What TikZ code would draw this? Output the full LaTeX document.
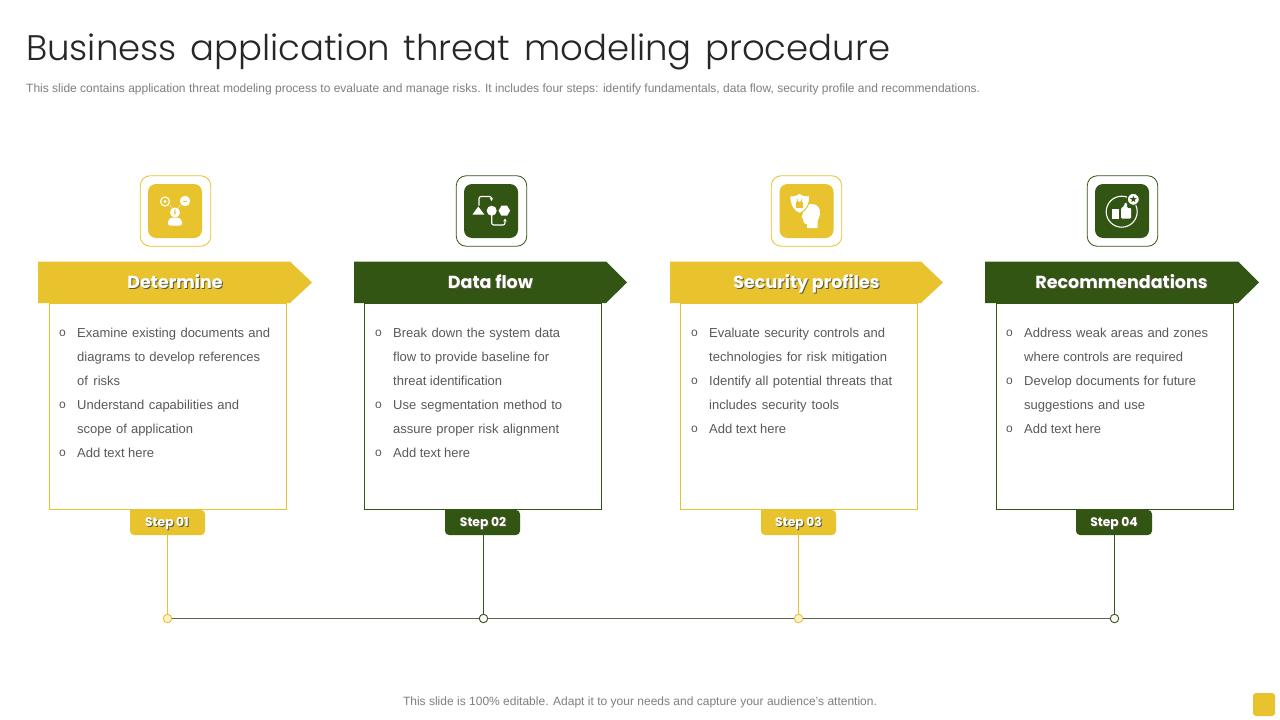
\documentclass[tikz,border=0pt]{standalone}
\usepackage{fontspec}
\setmainfont{Liberation Sans}
\newfontfamily\geofont{Poppins}
\newfontfamily\titlefont{Poppins Light}
\usetikzlibrary{shapes.geometric,arrows.meta}
\definecolor{ylw}{HTML}{E8C32E}
\definecolor{grn}{HTML}{335514}
\definecolor{paleylw}{HTML}{FBF3CF}
\definecolor{bodygrey}{HTML}{595959}
\definecolor{subgrey}{HTML}{7F7F7F}
\definecolor{titlegrey}{HTML}{262626}
\definecolor{shade}{HTML}{5A5A40}
\definecolor{railgrey}{HTML}{5F6350}
\tikzset{
  x=1pt,y=-1pt,
  bodytext/.style={anchor=base west,inner sep=0pt,text=bodygrey,font=\fontsize{13}{15}\selectfont},
  bullet/.style={anchor=base,inner sep=0pt,text=bodygrey,font=\fontsize{12}{14}\selectfont},
  cardbox/.style={draw=#1,line width=0.9pt,fill=white,inner sep=0pt,outer sep=0pt,anchor=north west,minimum width=237pt,minimum height=206.5pt},
  iconframe/.style={draw=#1,line width=0.8pt,rounded corners=10pt,fill=white,minimum width=70.5pt,minimum height=70.5pt,inner sep=0pt,outer sep=0pt},
  iconpad/.style={fill=#1,rounded corners=8pt,minimum width=54pt,minimum height=54pt,inner sep=0pt,outer sep=0pt},
  bannertext/.style={anchor=base,text=white,inner sep=0pt,font=\geofont\bfseries\fontsize{17.5}{20}\selectfont},
  steptext/.style={anchor=base,text=white,inner sep=0pt,font=\geofont\bfseries\fontsize{12.3}{14}\selectfont},
  stepdot/.style={circle,draw=#1,line width=0.9pt,minimum size=8.5pt,inner sep=0pt,outer sep=0pt},
  stemline/.style={draw=#1,line width=1.1pt},
  iconline/.style={draw=white,line width=1.1pt},
}
\newcommand{\bodyline}[5]{\node[bodytext] (#1) at (#2,#3) {\makebox[#4pt][s]{#5}};}
\newcommand{\bodydot}[3]{\node[bullet] (#1) at (#2,#3) {o};}
\newcommand{\softtext}[1]{\rlap{\kern1pt\raisebox{-1pt}{\textcolor{shade}{#1}}}#1}
\newcommand{\banner}[4]{% x-left, x-shoulder, x-tip, colour
  \fill[#4] (#1,261.5) -- (#2,261.5) -- (#3,282.5) -- (#2,303) -- (#1,303) -- cycle;}
\newcommand{\steptab}[3]{% left, right, colour
  \fill[#3,rounded corners=4pt] (#1,510) -- (#1,535) -- (#2,535) -- (#2,510) [sharp corners] -- cycle;}
\begin{document}
\begin{tikzpicture}
\useasboundingbox (0,0) rectangle (1280,720);
\fill[white] (0,0) rectangle (1280,720);

% heading
\node[anchor=base west,inner sep=0pt,text=titlegrey,font=\titlefont\fontsize{35.5}{40}\selectfont] (title) at (26,60) {\makebox[864pt][s]{Business application threat modeling procedure}};
\node[anchor=base west,inner sep=0pt,text=subgrey,font=\fontsize{12}{14}\selectfont] (subtitle) at (26,92.5) {\makebox[954pt][s]{This slide contains application threat modeling process to evaluate and manage risks. It includes four steps: identify fundamentals, data flow, security profile and recommendations.}};
\node[anchor=base,inner sep=0pt,text=subgrey,font=\fontsize{12}{14}\selectfont] (footer) at (640,705) {\makebox[474pt][s]{This slide is 100\% editable. Adapt it to your needs and capture your audience's attention.}};
\node[fill=ylw,rounded corners=3pt,minimum width=22pt,minimum height=23pt,inner sep=0pt] (corner) at (1264,704.5) {};

% cards
\node[cardbox=ylw] (card1) at (49.5,303) {};
\node[cardbox=grn] (card2) at (364.5,303) {};
\node[cardbox=ylw] (card3) at (680.5,303) {};
\node[cardbox=grn] (card4) at (996,303) {};

% banners
\banner{38}{290}{312}{ylw}
\banner{354}{606}{627}{grn}
\banner{670}{921}{943}{ylw}
\banner{985}{1238}{1259}{grn}
\node[bannertext] (head1) at (175,288.5) {\softtext{Determine}};
\node[bannertext] (head2) at (490.5,288.5) {\softtext{Data flow}};
\node[bannertext] (head3) at (806.5,288.5) {\softtext{Security profiles}};
\node[bannertext] (head4) at (1121.5,288.5) {\softtext{Recommendations}};

% icon frames
\node[iconframe=ylw] (frame1) at (175.5,211) {};
\node[iconframe=grn] (frame2) at (491.5,211) {};
\node[iconframe=ylw] (frame3) at (806.5,211) {};
\node[iconframe=grn] (frame4) at (1122.5,211) {};
\node[iconpad=ylw] (pad1) at (175,211) {};
\node[iconpad=grn] (pad2) at (491,211) {};
\node[iconpad=ylw] (pad3) at (806.5,211) {};
\node[iconpad=grn] (pad4) at (1122,211) {};

% icon 1: person and two options
\draw[iconline] (165,201.5) circle (4.5);
\fill[white] (165,201.5) circle (1.6);
\fill[white] (185,201) circle (5.2);
\draw[ylw,line width=0.8pt] (182.5,201.5) -- (186.5,201.5);
\fill[white] (175,212.5) circle (5);
\draw[ylw,line width=0.8pt] (175.5,209.5) -- (174.5,212.5) -- (175.5,212.5) -- (174.5,215);
\fill[white,rounded corners=2pt] (168,225.5) -- (168,220) -- (171,217.5) -- (179,217.5) -- (182,220) -- (182,225.5) -- cycle;
\fill[white] (170.5,206) circle (0.7) (172,208) circle (0.7) (179.5,206) circle (0.7) (178,208) circle (0.7);

% icon 2: flow shapes
\fill[white] (478.3,206.5) -- (484.3,214.5) -- (472.5,214.5) -- cycle;
\fill[white] (491.7,210.7) circle (5);
\node[regular polygon,regular polygon sides=6,fill=white,minimum size=11.5pt,inner sep=0pt] (hexshape) at (504.3,210.7) {};
\draw[iconline,rounded corners=2pt,-{Stealth[length=3pt,width=3.5pt]}] (479,205.5) -- (479,196.5) -- (491.5,196.5) -- (491.5,201);
\draw[iconline,rounded corners=2pt,-{Stealth[length=3pt,width=3.5pt]}] (491.7,215) -- (491.7,225) -- (505,225) -- (505,218.5);

% icon 3: shield and head
\fill[white] (812,204) .. controls (817,204) and (820.5,208) .. (820,213) .. controls (820,217) and (818,219) .. (817.5,221) -- (817.5,228) -- (807,228) -- (807,224.5) .. controls (804,224.5) and (803,222) .. (803,219) -- (801.5,217) -- (803,213) .. controls (803,207) and (807,204) .. cycle;
\fill[white,draw=ylw,line width=1pt] (799.5,193) .. controls (802,195.5) and (806,196) .. (809.5,196) .. controls (810,204) and (807,210) .. (799.5,213.5) .. controls (792,210) and (789.5,204) .. (790,196) .. controls (793,196) and (797,195.5) .. cycle;
\fill[ylw] (796,202) rectangle (803,208);
\draw[ylw,line width=0.9pt] (797.5,202) -- (797.5,200.5) arc (180:0:2) -- (801.5,202);

% icon 4: thumbs-up badge
\draw[iconline] (1121.7,211.7) circle (15.5);
\fill[white] (1112.3,208.5) rectangle (1119.3,218.5);
\fill[white,rounded corners=1pt] (1121,218.5) -- (1121,208.5) -- (1124,206) -- (1125,202.5) -- (1127,203) -- (1127,208) -- (1131,208) -- (1131,218.5) -- cycle;
\fill[white,draw=grn,line width=1pt] (1133.3,199.3) circle (6);
\node[star,star points=5,star point ratio=2.4,fill=grn,minimum size=7pt,inner sep=0pt] (starshape) at (1133.3,199.3) {};

% body text, card 1
\bodydot{b11}{62.5}{336}
\bodyline{t11}{77}{337}{193}{Examine existing documents and}
\bodyline{t12}{77}{361}{183}{diagrams to develop references}
\bodyline{t13}{77}{385}{43}{of risks}
\bodydot{b12}{62.5}{408}
\bodyline{t14}{77}{409}{162}{Understand capabilities and}
\bodyline{t15}{77}{433}{116}{scope of application}
\bodydot{b13}{62.5}{456}
\bodyline{t16}{77}{457}{77}{Add text here}
% card 2
\bodydot{b21}{378.5}{336}
\bodyline{t21}{393}{337}{167}{Break down the system data}
\bodyline{t22}{393}{361}{156}{flow to provide baseline for}
\bodyline{t23}{393}{385}{109}{threat identification}
\bodydot{b22}{378.5}{408}
\bodyline{t24}{393}{409}{169}{Use segmentation method to}
\bodyline{t25}{393}{433}{166}{assure proper risk alignment}
\bodydot{b23}{378.5}{456}
\bodyline{t26}{393}{457}{77}{Add text here}
% card 3
\bodydot{b31}{694.5}{336}
\bodyline{t31}{709}{337}{176}{Evaluate security controls and}
\bodyline{t32}{709}{361}{178}{technologies for risk mitigation}
\bodydot{b32}{694.5}{384}
\bodyline{t33}{709}{385}{183}{Identify all potential threats that}
\bodyline{t34}{709}{409}{130}{includes security tools}
\bodydot{b33}{694.5}{432}
\bodyline{t35}{709}{433}{77}{Add text here}
% card 4
\bodydot{b41}{1009.5}{336}
\bodyline{t41}{1024}{337}{184}{Address weak areas and zones}
\bodyline{t42}{1024}{361}{159}{where controls are required}
\bodydot{b42}{1009.5}{384}
\bodyline{t43}{1024}{385}{172}{Develop documents for future}
\bodyline{t44}{1024}{409}{121}{suggestions and use}
\bodydot{b43}{1009.5}{432}
\bodyline{t45}{1024}{433}{77}{Add text here}

% step tabs
\steptab{130}{205}{ylw}
\steptab{445}{520}{grn}
\steptab{761}{836}{ylw}
\steptab{1076}{1152}{grn}
\node[steptext] (step1) at (167,526.5) {\softtext{Step 01}};
\node[steptext] (step2) at (483,526.5) {\softtext{Step 02}};
\node[steptext] (step3) at (798.5,526.5) {\softtext{Step 03}};
\node[steptext] (step4) at (1114,526.5) {\softtext{Step 04}};
\coordinate (tab1) at (167.5,535);
\coordinate (tab2) at (483.5,535);
\coordinate (tab3) at (798.5,535);
\coordinate (tab4) at (1114.5,535);

% timeline
\node[stepdot=ylw,fill=paleylw] (dot1) at (167.5,618.5) {};
\node[stepdot=grn,fill=white] (dot2) at (483.5,618.5) {};
\node[stepdot=ylw,fill=paleylw] (dot3) at (798.5,618.5) {};
\node[stepdot=grn,fill=white] (dot4) at (1114.5,618.5) {};
\draw[stemline=railgrey] (dot1) -- (dot2);
\draw[stemline=railgrey] (dot2) -- (dot3);
\draw[stemline=railgrey] (dot3) -- (dot4);
\draw[stemline=ylw] (tab1) -- (dot1);
\draw[stemline=grn] (tab2) -- (dot2);
\draw[stemline=ylw] (tab3) -- (dot3);
\draw[stemline=grn] (tab4) -- (dot4);
\end{tikzpicture}
\end{document}
